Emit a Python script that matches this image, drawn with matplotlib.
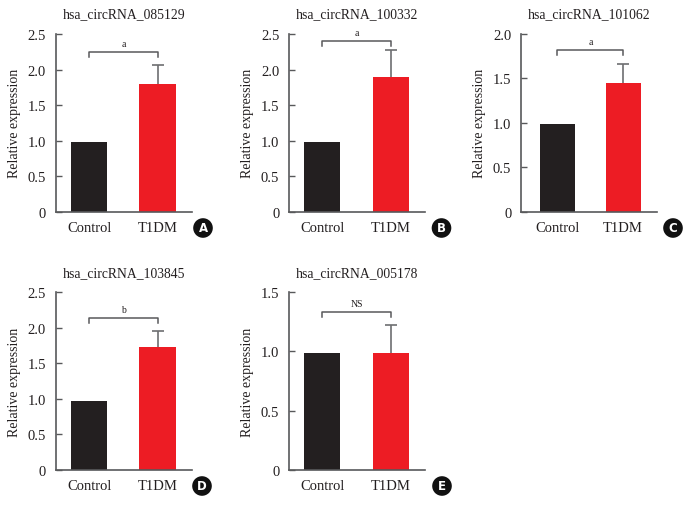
import matplotlib.pyplot as plt

plt.rcParams['font.family'] = ['Liberation Serif', 'DejaVu Serif']

groups = ['Control', 'T1DM']
titles = ['hsa_circRNA_085129', 'hsa_circRNA_100332', 'hsa_circRNA_101062',
          'hsa_circRNA_103845', 'hsa_circRNA_005178']
control = [0.98, 0.98, 0.99, 0.97, 0.99]
t1dm = [1.80, 1.90, 1.45, 1.73, 0.99]
t1dm_err = [0.26, 0.37, 0.21, 0.22, 0.23]
sig = ['a', 'a', 'a', 'b', 'NS']
bracket_y = [2.25, 2.40, 1.82, 2.14, 1.33]
ymax = [2.5, 2.5, 2.0, 2.5, 1.5]
letters = ['A', 'B', 'C', 'D', 'E']

W, H = 688, 506
fig = plt.figure(figsize=(W / 100, H / 100), dpi=100)

# axes boxes in pixels: left, right, top, bottom
boxes = [(55.7, 191.7, 35, 212.7), (289, 425, 35, 212.7), (521, 656.7, 35, 212.7),
         (55.7, 191.7, 293.3, 470.7), (289, 425, 293.3, 470.7)]
xlims = [(-0.49, 1.5), (-0.486, 1.5), (-0.555, 1.51), (-0.49, 1.5), (-0.486, 1.5)]
letter_pos = [(203, 229), (441.5, 229), (673, 229), (202, 487), (442, 487)]

spine_col = '#58595b'
text_col = '#231f20'

for i in range(5):
    l, r, t, b = boxes[i]
    ax = fig.add_axes([l / W, 1 - b / H, (r - l) / W, (b - t) / H])
    ax.bar([0, 1], [control[i], t1dm[i]], width=0.53,
           color=['#231f20', '#ed1c24'], zorder=2)
    # upper error bar only, cap on top
    ax.errorbar([1], [t1dm[i]], yerr=[[0], [t1dm_err[i]]], fmt='none',
                ecolor='#6d6e71', elinewidth=1.2, capsize=0, zorder=1)
    ax.plot([1], [t1dm[i] + t1dm_err[i]], marker='_', ms=9, mew=1.2,
            color='#6d6e71', zorder=1)
    ax.set_xlim(xlims[i])
    ax.set_ylim(0, ymax[i])
    ticks = [k * 0.5 for k in range(int(ymax[i] / 0.5) + 1)]
    ax.set_yticks(ticks)
    ax.set_yticklabels(['0'] + ['%.1f' % v for v in ticks[1:]])
    ax.set_xticks([0, 1])
    ax.set_xticklabels(groups)
    ax.tick_params(axis='y', direction='in', length=4, width=1, color=spine_col,
                   pad=7, labelsize=10.5, labelcolor=text_col)
    ax.tick_params(axis='x', length=0, pad=7, labelsize=10.5, labelcolor=text_col)
    for s in ['top', 'right']:
        ax.spines[s].set_visible(False)
    for s in ['left', 'bottom']:
        ax.spines[s].set_color(spine_col)
        ax.spines[s].set_linewidth(1.2)
    ax.set_ylabel('Relative expression', fontsize=10, color=text_col, labelpad=5)
    ax.set_title(titles[i], fontsize=9.8, color=text_col, pad=12)

    # significance bracket
    drop = ymax[i] * 0.028
    by = bracket_y[i]
    ax.plot([0, 0, 1, 1], [by - drop, by, by, by - drop], color='#58595b', lw=1.1,
            clip_on=False)
    ax.annotate(sig[i], (0.5, by), xytext=(0, 3), textcoords='offset points',
                ha='center', va='bottom', fontsize=7, color=text_col)

    px, py = letter_pos[i]
    fig.text(px / W, 1 - py / H, letters[i], ha='center', va='center', color='white',
             fontsize=8.5, fontweight='bold', family='DejaVu Sans',
             bbox=dict(boxstyle='circle,pad=0.28', fc='#111111', ec='none'))

fig.savefig('out.png', dpi=100)
